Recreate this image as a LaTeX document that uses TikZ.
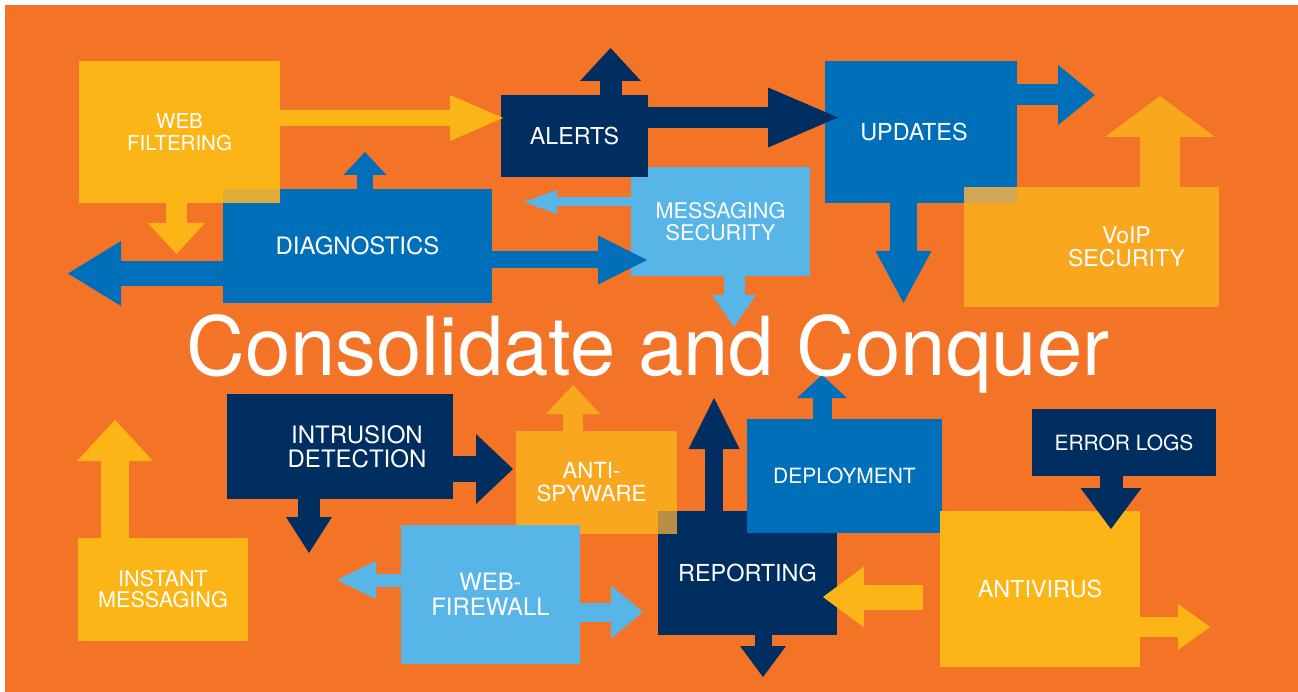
\documentclass[tikz,border=0pt]{standalone}
\usepackage{fontspec}
\setmainfont{TeX Gyre Heros}
\usetikzlibrary{arrows.meta}
\definecolor{bgor}{HTML}{F47427}
\definecolor{yel}{HTML}{FBB516}
\definecolor{amber}{HTML}{F9A71F}
\definecolor{navy}{HTML}{002E60}
\definecolor{mblue}{HTML}{006FBA}
\definecolor{lblue}{HTML}{58B5E7}
\definecolor{blendA}{HTML}{E2AC3A}
\definecolor{blendB}{HTML}{D1A656}
\definecolor{blendC}{HTML}{B98F45}
\begin{document}
\begin{tikzpicture}[x=1pt,y=-1pt,
  box/.style={rectangle, inner sep=0pt, outer sep=0pt, text=white, align=center},
  fs/.style={font=\fontsize{#1}{#1}\selectfont},
  barrow/.style n args={4}{draw=#1, line width=#2pt,
     -{Triangle[length=#4pt, width=#3pt, line width=0pt]}}]
\useasboundingbox (0,0) rectangle (1298,692);
\fill[white] (0,0) rectangle (1298,692);
\fill[bgor] (5,5) rectangle (1298,692);

% boxes
\node[box, fill=yel, minimum width=201pt, minimum height=142pt, font=\fontsize{20.5}{22}\selectfont] (wf) at (179.5,132) {WEB\\FILTERING};
\node[box, fill=mblue, minimum width=269pt, minimum height=114pt, font=\fontsize{24}{24}\selectfont] (diag) at (357.5,246) {DIAGNOSTICS};
\node[box, fill=lblue, minimum width=179pt, minimum height=109pt, font=\fontsize{21.6}{22}\selectfont] (msg) at (720.5,221.5) {MESSAGING\\SECURITY};
\node[box, fill=navy, minimum width=147pt, minimum height=82pt, font=\fontsize{23.3}{23}\selectfont] (alerts) at (574.5,136) {ALERTS};
\node[box, fill=mblue, minimum width=192pt, minimum height=142pt, font=\fontsize{23.4}{23}\selectfont] (upd) at (921,132) {UPDATES\hspace*{14pt}};
\node[box, fill=amber, minimum width=255pt, minimum height=120pt, font=\fontsize{23}{23}\selectfont] (voip) at (1091.5,247) {\hspace*{70pt}VoIP\\\hspace*{70pt}SECURITY};
\node[box, fill=navy, minimum width=226pt, minimum height=105pt, font=\fontsize{24}{24}\selectfont] (id) at (340,446.5) {\hspace*{34pt}INTRUSION\\\hspace*{34pt}DETECTION};
\node[box, fill=yel, minimum width=170pt, minimum height=103pt, font=\fontsize{21.6}{21}\selectfont] (im) at (163,589.5) {INSTANT\\MESSAGING};
\node[box, fill=amber, minimum width=161pt, minimum height=103pt, font=\fontsize{22.2}{23}\selectfont] (as) at (596.5,482.5) {ANTI-\hspace*{10pt}\\SPYWARE\hspace*{10pt}};
\node[box, fill=lblue, minimum width=179pt, minimum height=139pt, font=\fontsize{23.9}{25}\selectfont] (wfw) at (490.5,594.5) {WEB-\\FIREWALL};
\node[box, fill=navy, minimum width=179pt, minimum height=124pt, font=\fontsize{23.4}{23}\selectfont] (rep) at (747.5,573) {REPORTING};
\node[box, fill=mblue, minimum width=195pt, minimum height=114pt, font=\fontsize{21}{21}\selectfont] (dep) at (844.5,476) {DEPLOYMENT};
\node[box, fill=navy, minimum width=184pt, minimum height=67pt, font=\fontsize{21}{21}\selectfont] (el) at (1124,442.5) {ERROR LOGS};
\node[box, fill=yel, minimum width=200pt, minimum height=156pt, font=\fontsize{23.4}{23}\selectfont] (av) at (1040,589) {ANTIVIRUS};

% blended overlaps
\fill[blendA] (diag.north west) rectangle (wf.south east);
\fill[blendB] (voip.north west) rectangle (upd.south east);
\fill[blendC] (rep.north west) rectangle (as.south east);

% arrow tips / free ends
\coordinate (t1) at (503,118);
\coordinate (t2) at (176.5,254);
\coordinate (t3) at (365,152);
\coordinate (t4) at (68,273.5);
\coordinate (t5) at (647,260);
\coordinate (t6) at (610.5,48);
\coordinate (t7) at (838,117.5);
\coordinate (t8) at (524,202);
\coordinate (t9) at (734,327);
\coordinate (t10) at (1095,95);
\coordinate (t11) at (903.5,303);
\coordinate (t12) at (1160,96);
\coordinate (t13) at (309,553);
\coordinate (t14) at (513,469);
\coordinate (t15) at (115,420);
\coordinate (t16) at (337,580);
\coordinate (t17) at (643,612);
\coordinate (t18) at (573,385);
\coordinate (t19) at (714,398);
\coordinate (t20) at (763,677);
\coordinate (t21) at (822,375);
\coordinate (t22) at (1111,529);
\coordinate (s23) at (923,597);
\coordinate (t23) at (823,597);
\coordinate (t24) at (1210,627);

% block arrows
\draw[barrow={yel}{16}{46}{53}] (wf.east |- t1) -- (t1);
\draw[barrow={yel}{21}{57}{31}] (t2 |- wf.south) -- (t2);
\draw[barrow={mblue}{16}{43}{23}] (t3 |- diag.north) -- (t3);
\draw[barrow={mblue}{25}{65}{53}] (diag.west |- t4) -- (t4);
\draw[barrow={mblue}{17}{49}{49}] (diag.east |- t5) -- (t5);
\draw[barrow={navy}{22}{61}{33}] (t6 |- alerts.north) -- (t6);
\draw[barrow={navy}{21}{60}{70}] (alerts.east |- t7) -- (t7);
\draw[barrow={lblue}{9}{24}{33}] (msg.west |- t8) -- (t8);
\draw[barrow={lblue}{21}{44}{32}] (t9 |- msg.south) -- (t9);
\draw[barrow={mblue}{21}{60}{37}] (upd.east |- t10) -- (t10);
\draw[barrow={mblue}{27}{56}{52}] (t11 |- upd.south) -- (t11);
\draw[barrow={amber}{40}{110}{41}] (t12 |- voip.north) -- (t12);
\draw[barrow={navy}{22}{46}{36}] (t13 |- id.south) -- (t13);
\draw[barrow={navy}{26}{70}{37}] (id.east |- t14) -- (t14);
\draw[barrow={yel}{28}{76}{41}] (t15 |- im.north) -- (t15);
\draw[barrow={lblue}{13}{38}{39}] (wfw.west |- t16) -- (t16);
\draw[barrow={lblue}{19}{53}{32}] (wfw.east |- t17) -- (t17);
\draw[barrow={amber}{20}{54}{29}] (t18 |- as.north) -- (t18);
\draw[barrow={navy}{18}{51}{51}] (t19 |- rep.north) -- (t19);
\draw[barrow={navy}{17}{46}{31}] (t20 |- rep.south) -- (t20);
\draw[barrow={mblue}{19}{50}{23}] (t21 |- dep.north) -- (t21);
\draw[barrow={navy}{23}{61}{41}] (t22 |- el.south) -- (t22);
\draw[barrow={yel}{25}{61}{41}] (s23) -- (t23);
\draw[barrow={yel}{20}{46}{32}] (av.east |- t24) -- (t24);

% title
\node[text=white, inner sep=0pt, anchor=base, font=\fontsize{81.5}{90}\selectfont] (title) at (648,375) {Consolidate and Conquer};
\end{tikzpicture}
\end{document}
